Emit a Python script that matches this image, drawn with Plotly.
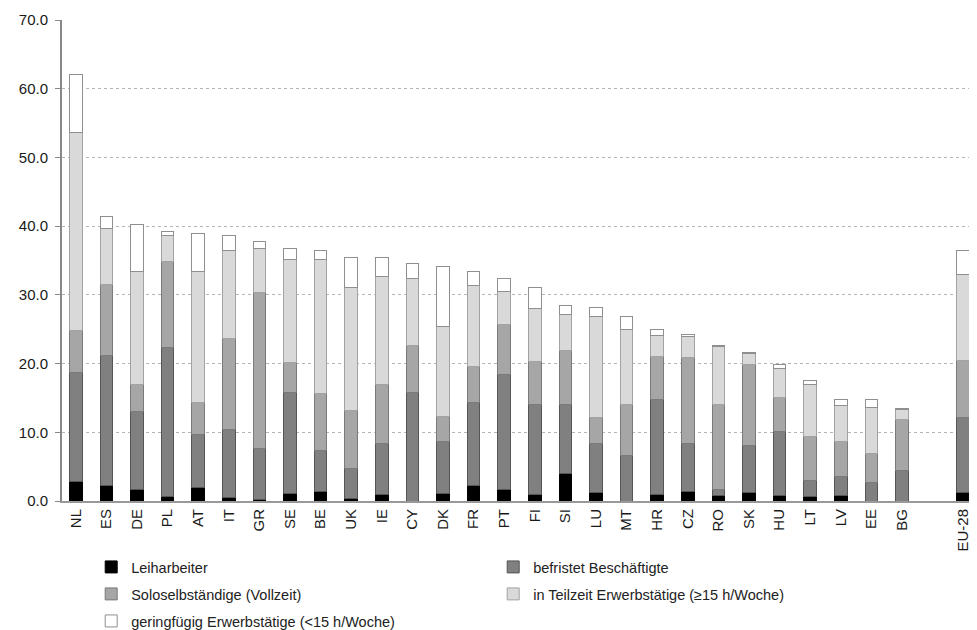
import plotly.graph_objects as go

countries = ["NL", "ES", "DE", "PL", "AT", "IT", "GR", "SE", "BE", "UK", "IE", "CY", "DK", "FR",
             "PT", "FI", "SI", "LU", "MT", "HR", "CZ", "RO", "SK", "HU", "LT", "LV", "EE", "BG"]
eu_label = "EU-28"
spacer = " "

# segment values (percent), countries then EU-28 as last entry
leiharbeiter = [2.9, 2.3, 1.7, 0.6, 1.9, 0.5, 0.2, 1.1, 1.4, 0.4, 1.0, 0.0, 1.1, 2.2,
                1.7, 1.0, 4.0, 1.2, 0.0, 0.9, 1.4, 0.8, 1.3, 0.8, 0.6, 0.8, 0.0, 0.0, 1.3]
befristet = [15.8, 18.9, 11.3, 21.7, 7.8, 9.9, 7.4, 14.7, 5.9, 4.3, 7.3, 15.8, 7.5, 12.2,
             16.7, 13.0, 10.1, 7.1, 6.6, 13.8, 6.9, 0.9, 6.8, 9.3, 2.4, 2.7, 2.7, 4.5, 10.9]
solo = [6.1, 10.3, 4.0, 12.6, 4.6, 13.2, 22.8, 4.3, 8.4, 8.5, 8.7, 6.8, 3.7, 5.2,
        7.3, 6.3, 7.8, 3.8, 7.5, 6.4, 12.6, 12.3, 11.8, 5.0, 6.4, 5.2, 4.2, 7.3, 8.2]
teilzeit = [28.9, 8.1, 16.4, 3.7, 19.1, 12.8, 6.3, 15.1, 19.5, 17.8, 15.6, 9.8, 13.1, 11.8,
            4.8, 7.7, 5.2, 14.7, 10.8, 3.0, 3.1, 8.5, 1.5, 4.2, 7.5, 5.2, 6.7, 1.5, 12.6]
geringfuegig = [8.3, 1.8, 6.9, 0.6, 5.5, 2.3, 1.1, 1.6, 1.3, 4.5, 2.9, 2.1, 8.8, 2.0,
                1.9, 3.0, 1.4, 1.4, 2.0, 0.8, 0.3, 0.1, 0.2, 0.5, 0.7, 0.9, 1.1, 0.1, 3.4]

names = ["Leiharbeiter", "befristet Beschäftigte", "Soloselbständige (Vollzeit)",
         "in Teilzeit Erwerbstätige (≥15 h/Woche)", "geringfügig Erwerbstätige (<15 h/Woche)"]
series = [leiharbeiter, befristet, solo, teilzeit, geringfuegig]
fills = ["#000000", "#808080", "#a6a6a6", "#d9d9d9", "#ffffff"]
edges = ["#000000", "#555555", "#7a7a7a", "#a3a3a3", "#8f8f8f"]
legend_ids = ["legend", "legend", "legend2", "legend2", "legend3"]

x = countries + [eu_label]

fig = go.Figure()
for nm, vals, fc, ec, lg in zip(names, series, fills, edges, legend_ids):
    fig.add_trace(go.Bar(
        x=x, y=vals, name=nm,
        marker=dict(color=fc, line=dict(color=ec, width=1)),
        legend=lg,
    ))

font_family = "Liberation Sans, Arial, sans-serif"
legend_common = dict(
    orientation="h", xanchor="left", yanchor="middle",
    x=0.0319, entrywidth=357, entrywidthmode="pixels",
    font=dict(family=font_family, size=14.5, color="#222222"),
    bgcolor="rgba(0,0,0,0)", borderwidth=0, traceorder="normal",
)

fig.update_layout(
    width=969, height=622,
    margin=dict(l=54, r=0, t=12, b=129, autoexpand=False),
    barmode="stack", bargap=0.585,
    plot_bgcolor="white", paper_bgcolor="white",
    font=dict(family=font_family, size=15, color="#1a1a1a"),
    legend=dict(**legend_common, y=-0.1372),
    legend2=dict(**legend_common, y=-0.1933),
    legend3=dict(**legend_common, y=-0.2495),
    xaxis=dict(
        type="category", categoryorder="array",
        categoryarray=countries + [spacer, eu_label],
        range=[-0.45, 29.45], tickangle=-90,
        showline=True, linecolor="#999999", linewidth=2,
        ticks="", showgrid=False,
        tickfont=dict(size=15, color="#1a1a1a"),
    ),
    yaxis=dict(
        range=[0, 70], dtick=10, tickformat=".1f",
        showline=True, linecolor="#888888", linewidth=2,
        ticks="outside", ticklen=5, tickcolor="#888888", tickwidth=1,
        ticklabelstandoff=4,
        showgrid=True, gridcolor="#b5b5b5", gridwidth=1, griddash="3px,3px",
        zeroline=False,
        tickfont=dict(size=15, color="#1a1a1a"),
    ),
)

fig.write_html("out.html")
